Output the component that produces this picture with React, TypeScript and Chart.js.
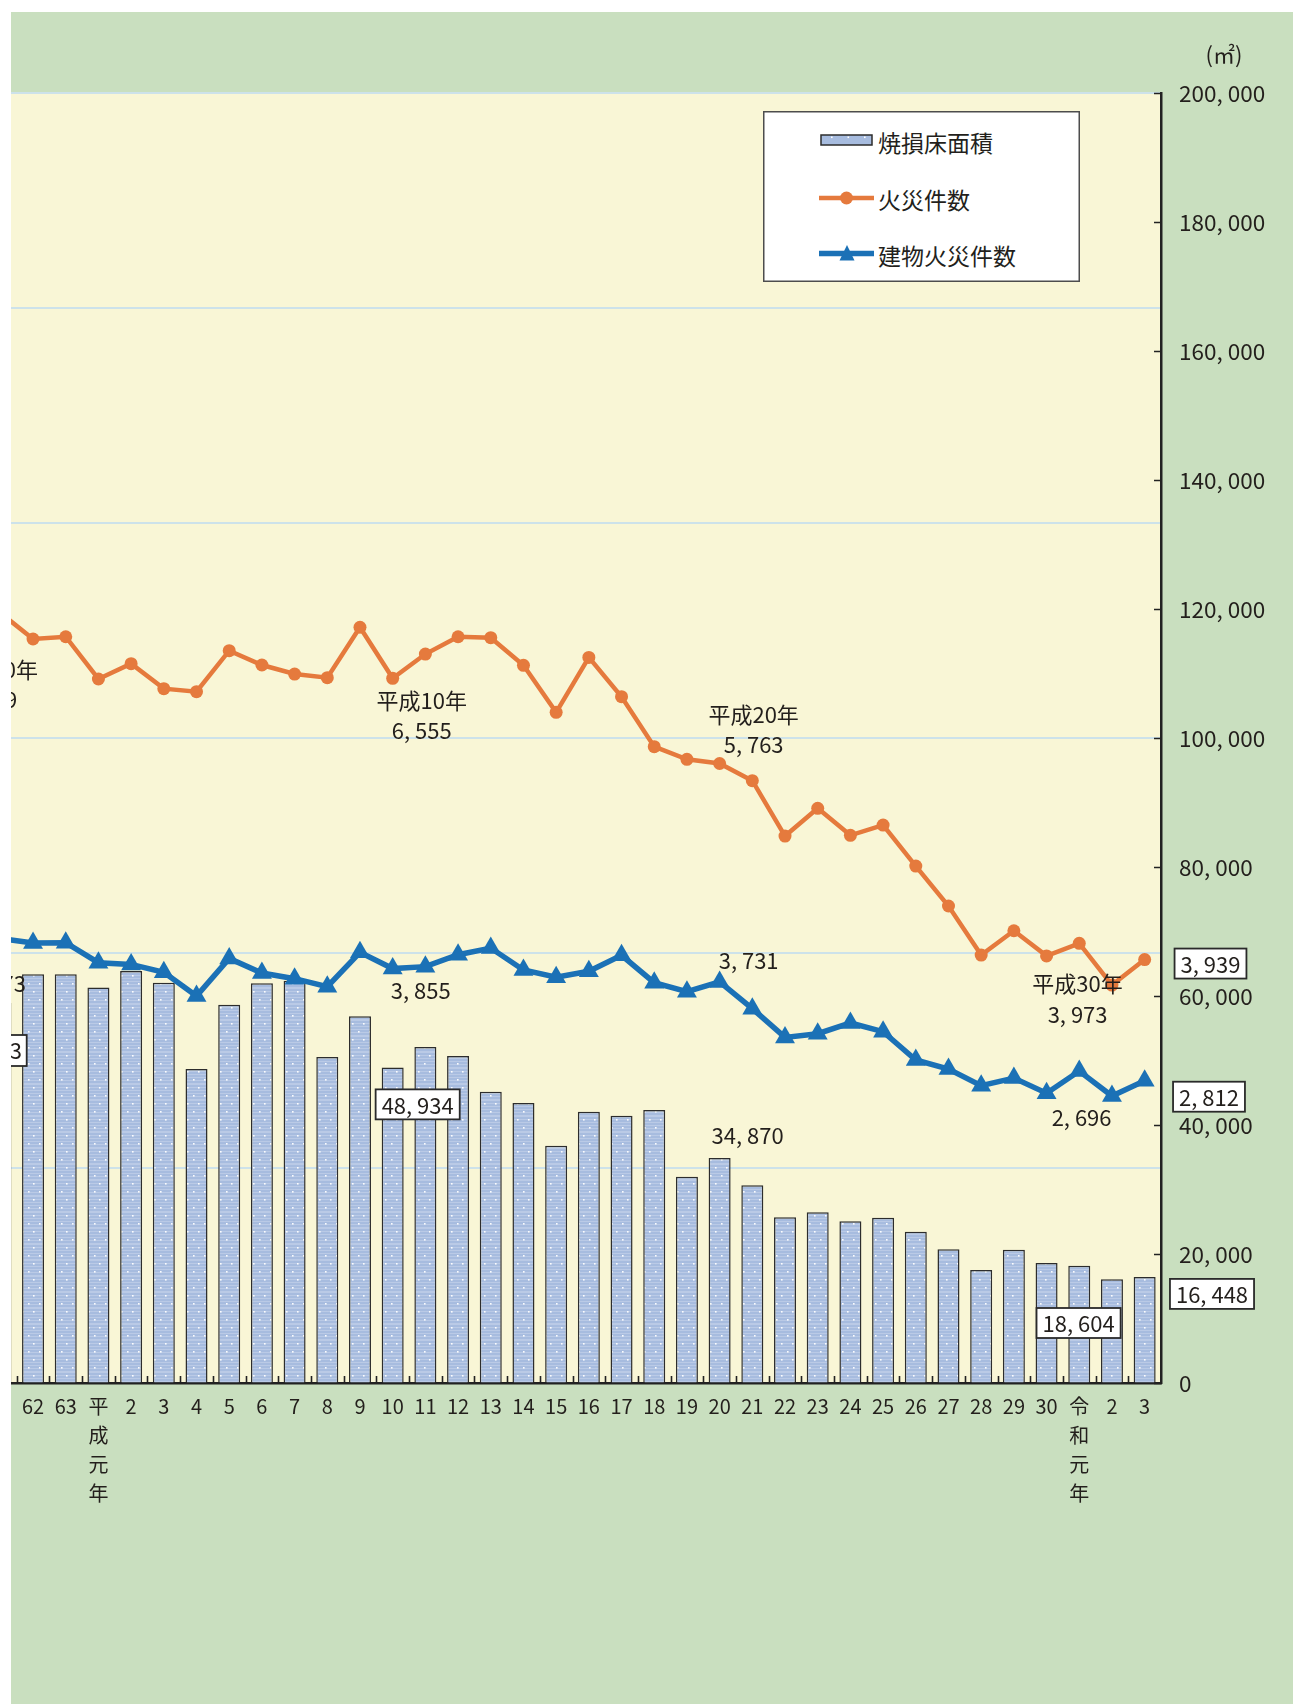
import React, { useEffect, useRef } from "react";
import { Chart, registerables } from "chart.js";

Chart.register(...registerables);

// ---------- data ----------
const categories: (string | string[])[] = [
  "61", "62", "63", ["平", "成", "元", "年"], "2", "3", "4", "5", "6", "7", "8", "9", "10",
  "11", "12", "13", "14", "15", "16", "17", "18", "19", "20", "21", "22", "23", "24",
  "25", "26", "27", "28", "29", "30", ["令", "和", "元", "年"], "2", "3",
];

// 焼損床面積 (㎡)
const burnedFloorArea = [
  58900, 63360, 63360, 61300, 63880, 62060, 48680, 58650, 61970, 62370, 50540, 56850, 48934,
  52090, 50700, 45170, 43410, 36790, 42060, 41440, 42330, 31990, 34870, 30650, 25690, 26470,
  25070, 25630, 23460, 20730, 17520, 20670, 18604, 18190, 16080, 16448,
];

// 火災件数
const fireCount = [
  7164, 6921, 6942, 6549, 6691, 6459, 6431, 6812, 6679, 6595, 6561, 7030, 6555, 6781, 6942,
  6933, 6676, 6239, 6750, 6384, 5919, 5802, 5763, 5603, 5088, 5346, 5095, 5190, 4809, 4437,
  3981, 4207, 3973, 4090, 3702, 3939,
];

// 建物火災件数
const buildingFireCount = [
  4135, 4093, 4096, 3910, 3894, 3820, 3600, 3950, 3814, 3761, 3687, 4006, 3855, 3873, 3984,
  4046, 3842, 3774, 3830, 3978, 3724, 3640, 3731, 3482, 3215, 3249, 3349, 3268, 3005, 2921,
  2766, 2837, 2696, 2902, 2670, 2812,
];

const seriesNames = ["焼損床面積", "火災件数", "建物火災件数"];
const areaAxisMax = 200000;
const areaAxisStep = 20000;
const countAxisMax = 12000;
const countAxisStep = 2000;
const unitLabel = "(㎡)";

// ---------- styles ----------
const GREEN = "#c9dfbf";
const CREAM = "#f9f6d6";
const GRID = "#cde2ea";
const ORANGE = "#e57a3d";
const BLUE = "#1b71b6";
const TEXT = "#231f1c";
const BAR_FILL = "#a7bcdf";
const FONT = '"Noto Sans CJK JP", sans-serif';
const CJK = '"Noto Sans CJK JP", sans-serif';

const fmt = (n: number) => n.toLocaleString("en-US").replace(/,/g, ", ");

type Note = {
  ds: number;
  i: number;
  lines: string[];
  dx: number;
  dy: number;
  gap?: number;
  boxed?: boolean;
  axis?: boolean;
};

const notes: Note[] = [
  { ds: 0, i: 12, lines: ["平成10年", fmt(fireCount[12])], dx: 29, dy: 21, gap: 30.5 },
  { ds: 1, i: 12, lines: [fmt(buildingFireCount[12])], dx: 28, dy: 21 },
  { ds: 2, i: 12, lines: [fmt(burnedFloorArea[12])], dx: 25, dy: 37, boxed: true },
  { ds: 0, i: 22, lines: ["平成20年", fmt(fireCount[22])], dx: 34, dy: -49.5, gap: 29.7 },
  { ds: 1, i: 22, lines: [fmt(buildingFireCount[22])], dx: 29, dy: -22 },
  { ds: 2, i: 22, lines: [fmt(burnedFloorArea[22])], dx: 28, dy: -23 },
  { ds: 0, i: 32, lines: ["平成30年", fmt(fireCount[32])], dx: 31, dy: 26.4, gap: 31.7 },
  { ds: 1, i: 32, lines: [fmt(buildingFireCount[32])], dx: 35, dy: 23.5 },
  { ds: 2, i: 32, lines: [fmt(burnedFloorArea[32])], dx: 32, dy: 60, boxed: true },
  { ds: 0, i: 35, lines: [fmt(fireCount[35])], dx: 49.5, dy: 4, boxed: true, axis: true },
  { ds: 1, i: 35, lines: [fmt(buildingFireCount[35])], dx: 48, dy: 16, boxed: true, axis: true },
  { ds: 2, i: 35, lines: [fmt(burnedFloorArea[35])], dx: 51, dy: 17, boxed: true, axis: true },
];

// canvas placement (page -> canvas offset)
const CANVAS_LEFT = -27; // inside wrapper (wrapper at page x 11)
const OFFX = 16; // canvas x = page x + 16
const OFFY = -12; // canvas y = page y - 12

function makeBarPattern(): CanvasPattern | string {
  const c = document.createElement("canvas");
  c.width = 11;
  c.height = 16;
  const g = c.getContext("2d");
  if (!g) return BAR_FILL;
  g.fillStyle = BAR_FILL;
  g.fillRect(0, 0, 11, 16);
  g.fillStyle = "rgba(255,255,255,0.22)";
  for (let y = 0; y < 16; y += 3) g.fillRect(0, y, 11, 1);
  g.fillStyle = "rgba(255,255,255,0.95)";
  g.fillRect(5, 3, 1.6, 1.6);
  g.fillRect(0, 11, 1.6, 1.6);
  const p = g.createPattern(c, "repeat");
  return p || BAR_FILL;
}

const backgroundPlugin = {
  id: "plotBackground",
  beforeDraw(chart: any) {
    const { ctx, chartArea } = chart;
    ctx.save();
    ctx.fillStyle = CREAM;
    ctx.fillRect(chartArea.left, chartArea.top, chartArea.right - chartArea.left, chartArea.bottom - chartArea.top);
    ctx.restore();
  },
};

const tickMarksPlugin = {
  id: "tickMarks",
  afterDatasetsDraw(chart: any) {
    const { ctx, chartArea, scales } = chart;
    const x = scales.x;
    const y1 = scales.y1;
    ctx.save();
    ctx.strokeStyle = "#222";
    ctx.lineWidth = 1.6;
    ctx.beginPath();
    y1.ticks.forEach((_t: any, k: number) => {
      const py = Math.round(y1.getPixelForTick(k)) + 0.5;
      ctx.moveTo(chartArea.right - 7, py);
      ctx.lineTo(chartArea.right, py);
    });
    for (let k = 1; k < categories.length; k++) {
      const px = Math.round((x.getPixelForValue(k - 1) + x.getPixelForValue(k)) / 2) + 0.5;
      ctx.moveTo(px, chartArea.bottom);
      ctx.lineTo(px, chartArea.bottom - 7);
    }
    ctx.stroke();
    ctx.restore();
  },
};

function drawBoxedText(ctx: CanvasRenderingContext2D, t: string, x: number, y: number) {
  const w = ctx.measureText(t).width + 12;
  ctx.fillStyle = "#ffffff";
  ctx.fillRect(x - w / 2, y - 15, w, 30);
  ctx.strokeStyle = "#2a2a2a";
  ctx.lineWidth = 1.8;
  ctx.strokeRect(x - w / 2, y - 15, w, 30);
  ctx.fillStyle = TEXT;
  ctx.fillText(t, x, y + 1);
}

const notesPlugin = {
  id: "notes",
  afterDraw(chart: any) {
    const ctx: CanvasRenderingContext2D = chart.ctx;
    ctx.save();
    ctx.font = `22px ${FONT}`;
    ctx.textAlign = "center";
    ctx.textBaseline = "middle";
    ctx.fillStyle = TEXT;
    for (const n of notes) {
      const el = chart.getDatasetMeta(n.ds).data[n.i];
      if (!el) continue;
      const x = n.axis ? chart.scales.y1.left + n.dx : el.x + n.dx;
      const y = el.y + n.dy;
      n.lines.forEach((t, k) => {
        const ty = y + k * (n.gap || 30);
        if (n.boxed) drawBoxedText(ctx, t, x, ty);
        else {
          ctx.fillStyle = TEXT;
          ctx.fillText(t, x, ty + 1);
        }
      });
    }
    // labels of earlier years, cut off by the left edge of the figure
    ctx.textAlign = "right";
    ctx.fillText("0年", 38 + OFFX, 670 + OFFY);
    ctx.textAlign = "left";
    ctx.fillText("9", 5 + OFFX, 700 + OFFY);
    ctx.textAlign = "right";
    ctx.fillText("73", 26 + OFFX, 984 + OFFY);
    ctx.fillStyle = "#ffffff";
    ctx.fillRect(-40 + OFFX, 1035 + OFFY, 66.7, 31);
    ctx.strokeStyle = "#2a2a2a";
    ctx.lineWidth = 1.8;
    ctx.strokeRect(-40 + OFFX, 1035 + OFFY, 66.7, 31);
    ctx.fillStyle = TEXT;
    ctx.fillText("3", 22 + OFFX, 1051 + OFFY);
    ctx.restore();
  },
};

export default function App() {
  const ref = useRef<HTMLCanvasElement | null>(null);

  useEffect(() => {
    if (!ref.current) return;
    const pattern = makeBarPattern();
    const chart = new Chart(ref.current, {
      type: "bar",
      data: {
        labels: categories as any,
        datasets: [
          {
            type: "line",
            label: seriesNames[1],
            data: fireCount,
            yAxisID: "y",
            borderColor: ORANGE,
            backgroundColor: ORANGE,
            borderWidth: 4.5,
            pointStyle: "circle",
            pointRadius: 6.5,
            pointBorderWidth: 0,
            tension: 0,
            order: 1,
          } as any,
          {
            type: "line",
            label: seriesNames[2],
            data: buildingFireCount,
            yAxisID: "y",
            borderColor: BLUE,
            backgroundColor: BLUE,
            borderWidth: 5.5,
            pointStyle: "triangle",
            pointRadius: 11.5,
            pointBorderWidth: 0,
            tension: 0,
            order: 0,
          } as any,
          {
            type: "bar",
            label: seriesNames[0],
            data: burnedFloorArea,
            yAxisID: "y1",
            backgroundColor: pattern as any,
            borderColor: "#2d2d2d",
            borderWidth: 1.5,
            barPercentage: 0.673,
            categoryPercentage: 1,
            order: 2,
          } as any,
        ],
      },
      options: {
        responsive: false,
        animation: false,
        devicePixelRatio: 1,
        events: [],
        layout: { autoPadding: false, padding: { top: 81, left: 0, right: 0, bottom: 0 } },
        plugins: { legend: { display: false }, tooltip: { enabled: false } },
        scales: {
          x: {
            type: "category",
            offset: true,
            grid: { display: false, drawTicks: true, tickLength: 9 },
            border: { display: true, color: "#222", width: 2.5 },
            ticks: {
              autoSkip: false,
              maxRotation: 0,
              minRotation: 0,
              padding: 0,
              color: TEXT,
              font: { family: FONT, size: 20, lineHeight: 29 / 20 },
            },
            afterFit: (s: any) => {
              s.height = 321;
              s.paddingLeft = 0;
              s.paddingRight = 0;
            },
          },
          y: {
            position: "left",
            min: 0,
            max: countAxisMax,
            ticks: { display: false, stepSize: countAxisStep },
            grid: {
              color: (c: any) => (c.tick && c.tick.value === 0 ? "rgba(0,0,0,0)" : GRID),
              lineWidth: 2,
              drawTicks: false,
            },
            border: { display: false },
            afterFit: (s: any) => {
              s.width = 0;
            },
          },
          y1: {
            position: "right",
            min: 0,
            max: areaAxisMax,
            ticks: {
              stepSize: areaAxisStep,
              padding: 18,
              color: TEXT,
              font: { family: FONT, size: 22.5 },
              callback: (v: any) => fmt(Number(v)),
            },
            grid: { drawOnChartArea: false, drawTicks: false },
            border: { display: true, color: "#222", width: 2.5 },
            afterFit: (s: any) => {
              s.width = 132;
            },
          },
        },
      } as any,
      plugins: [backgroundPlugin, tickMarksPlugin, notesPlugin],
    });
    return () => chart.destroy();
  }, []);

  return (
    <div
      style={{
        position: "absolute",
        left: 11,
        top: 12,
        width: 1282,
        height: 1692,
        overflow: "hidden",
        background: GREEN,
      }}
    >
      <canvas
        ref={ref}
        width={1309}
        height={1692}
        style={{ position: "absolute", left: CANVAS_LEFT, top: 0, display: "block" }}
      />
      <div
        style={{
          position: "absolute",
          left: 1213,
          top: 41,
          transform: "translate(-50%, -50%)",
          fontFamily: CJK,
          fontSize: 22,
          lineHeight: 1,
          color: TEXT,
          whiteSpace: "nowrap",
        }}
      >
        {unitLabel}
      </div>
      <svg
        width={317}
        height={171}
        style={{ position: "absolute", left: 752, top: 99, display: "block" }}
      >
        <rect x={0.75} y={0.75} width={315.5} height={169.5} fill="#ffffff" stroke="#4d4d4d" strokeWidth={1.5} />
        <rect x={58} y={24} width={51} height={10} fill={BAR_FILL} stroke="#2d2d2d" strokeWidth={1.5} />
        <rect x={68} y={25.5} width={1.6} height={1.6} fill="#ffffff" />
        <rect x={84.5} y={25.5} width={1.6} height={1.6} fill="#ffffff" />
        <rect x={101} y={25.5} width={1.6} height={1.6} fill="#ffffff" />
        <line x1={56} y1={87} x2={111} y2={87} stroke={ORANGE} strokeWidth={4.5} />
        <circle cx={83.5} cy={87} r={6.5} fill={ORANGE} />
        <line x1={56} y1={142.5} x2={111} y2={142.5} stroke={BLUE} strokeWidth={5.5} />
        <polygon points="84,134 76.5,149.5 91.5,149.5" fill={BLUE} />
        {seriesNames.map((name, k) => (
          <text
            key={name}
            x={115}
            y={[31, 88, 144][k]}
            fontFamily={CJK}
            fontSize={23}
            fill={TEXT}
            dominantBaseline="central"
          >
            {name}
          </text>
        ))}
      </svg>
    </div>
  );
}
